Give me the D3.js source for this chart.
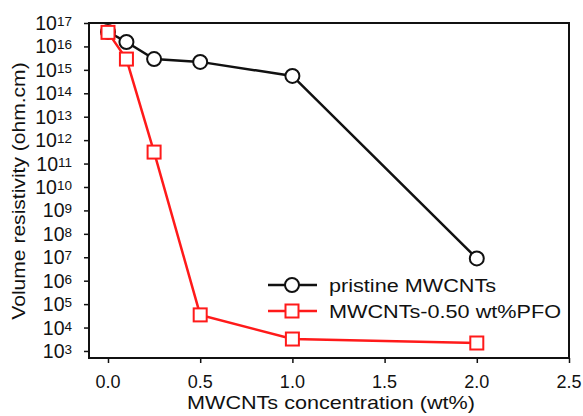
<!DOCTYPE html>
<html>
<head>
<meta charset="utf-8">
<script src="https://cdn.jsdelivr.net/npm/d3@7"></script>
<style>
    body { margin: 0; background: #fff; }
    text { font-family: Arial, "Liberation Sans", sans-serif; fill: #111; }
</style>
</head>
<body>
<svg id="chart" width="583" height="416"></svg>
<script>
// concentrations (wt%) and log10 of volume resistivity
let conc = [0, 0.1, 0.25, 0.5, 1.0, 2.0]
let pristineLog = [16.62, 16.19, 15.46, 15.34, 14.74, 6.95]
let pfoLog = [16.6, 15.46, 11.49, 4.54, 3.51, 3.34]
let xTicks = [0.0, 0.5, 1.0, 1.5, 2.0, 2.5]
let yExps = [3, 4, 5, 6, 7, 8, 9, 10, 11, 12, 13, 14, 15, 16, 17]
let seriesNames = ['pristine MWCNTs', 'MWCNTs-0.50 wt%PFO']

let svg = d3.select('#chart')
let pLeft = 89, pRight = 569, pTop = 23, pBottom = 358

let x = d3.scaleLinear()
    .domain([-0.103, 2.5])
    .range([pLeft, pRight])
let y = d3.scaleLog()
    .domain([Math.pow(10, 2.7), 1e17])
    .range([pBottom, pTop])

// the source font is a bit wider than Arial, so stretch text along its direction
function wideText(g, tx, ty, str, size, sx, anchor, rot) {
    return g.append('text')
        .attr('transform', 'translate(' + tx + ',' + ty + ')' + (rot ? ' rotate(' + rot + ')' : '') + ' scale(' + sx + ',1)')
        .attr('text-anchor', anchor)
        .attr('font-size', size)
        .text(str)
}

// frame
svg.append('rect')
    .attr('x', pLeft)
    .attr('y', pTop)
    .attr('width', pRight - pLeft)
    .attr('height', pBottom - pTop)
    .attr('fill', 'none')
    .attr('stroke', '#111')
    .attr('stroke-width', 2)

// x axis
let xAxis = svg.append('g')
    .attr('transform', 'translate(0,' + pBottom + ')')
    .call(d3.axisBottom(x)
        .tickValues(xTicks)
        .tickFormat('')
        .tickSizeOuter(0)
        .tickSizeInner(5))
xAxis.select('.domain').remove()
xAxis.selectAll('line').attr('stroke', '#111').attr('stroke-width', 1.5)
xTicks.forEach(t => {
    wideText(svg, x(t), 388, d3.format('.1f')(t), 17.5, 1.03, 'middle')
})

// y axis
let yAxis = svg.append('g')
    .attr('transform', 'translate(' + pLeft + ',0)')
    .call(d3.axisLeft(y)
        .tickValues(yExps.map(e => Math.pow(10, e)))
        .tickFormat('')
        .tickSizeOuter(0)
        .tickSizeInner(5))
yAxis.select('.domain').remove()
yAxis.selectAll('line').attr('stroke', '#111').attr('stroke-width', 1.5)

let yLab = svg.append('g')
yExps.forEach(e => {
    let t = yLab.append('text')
        .attr('x', 72)
        .attr('y', y(Math.pow(10, e)) + 7)
        .attr('text-anchor', 'end')
        .attr('font-size', 19.5)
    t.append('tspan').text('10')
    t.append('tspan')
        .attr('font-size', 13.5)
        .attr('dy', -4)
        .text(e)
})

// axis titles
wideText(svg, 331, 409, 'MWCNTs concentration (wt%)', 18, 1.2, 'middle')
wideText(svg, 25, 191, 'Volume resistivity (ohm.cm)', 18, 1.17, 'middle', -90)

let line = d3.line()
    .x(d => x(d[0]))
    .y(d => y(Math.pow(10, d[1])))

let pristine = conc.map((c, i) => [c, pristineLog[i]])
let pfo = conc.map((c, i) => [c, pfoLog[i]])

// black series
svg.append('path')
    .datum(pristine)
    .attr('d', line)
    .attr('fill', 'none')
    .attr('stroke', '#111')
    .attr('stroke-width', 2.5)
svg.selectAll('.circ')
    .data(pristine)
    .enter()
    .append('circle')
    .attr('class', 'circ')
    .attr('cx', d => x(d[0]))
    .attr('cy', d => y(Math.pow(10, d[1])))
    .attr('r', 7)
    .attr('fill', '#fff')
    .attr('stroke', '#111')
    .attr('stroke-width', 2)

// red series
svg.append('path')
    .datum(pfo)
    .attr('d', line)
    .attr('fill', 'none')
    .attr('stroke', '#ff1a1a')
    .attr('stroke-width', 2.5)
svg.selectAll('.sq')
    .data(pfo)
    .enter()
    .append('rect')
    .attr('class', 'sq')
    .attr('x', d => x(d[0]) - 6.5)
    .attr('y', d => y(Math.pow(10, d[1])) - 6.5)
    .attr('width', 13)
    .attr('height', 13)
    .attr('fill', '#fff')
    .attr('stroke', '#ff1a1a')
    .attr('stroke-width', 2)

// legend
let leg = svg.append('g')
let legY = [285, 311]
leg.append('line')
    .attr('x1', 268).attr('x2', 317)
    .attr('y1', legY[0]).attr('y2', legY[0])
    .attr('stroke', '#111').attr('stroke-width', 2.5)
leg.append('circle')
    .attr('cx', 292).attr('cy', legY[0]).attr('r', 7)
    .attr('fill', '#fff').attr('stroke', '#111').attr('stroke-width', 2)
leg.append('line')
    .attr('x1', 268).attr('x2', 317)
    .attr('y1', legY[1]).attr('y2', legY[1])
    .attr('stroke', '#ff1a1a').attr('stroke-width', 2.5)
leg.append('rect')
    .attr('x', 285.5).attr('y', legY[1] - 6.5)
    .attr('width', 13).attr('height', 13)
    .attr('fill', '#fff').attr('stroke', '#ff1a1a').attr('stroke-width', 2)
seriesNames.forEach((n, i) => {
    wideText(leg, 329, legY[i] + 6.5, n, 18.5, 1.17, 'start')
})
</script>
</body>
</html>
